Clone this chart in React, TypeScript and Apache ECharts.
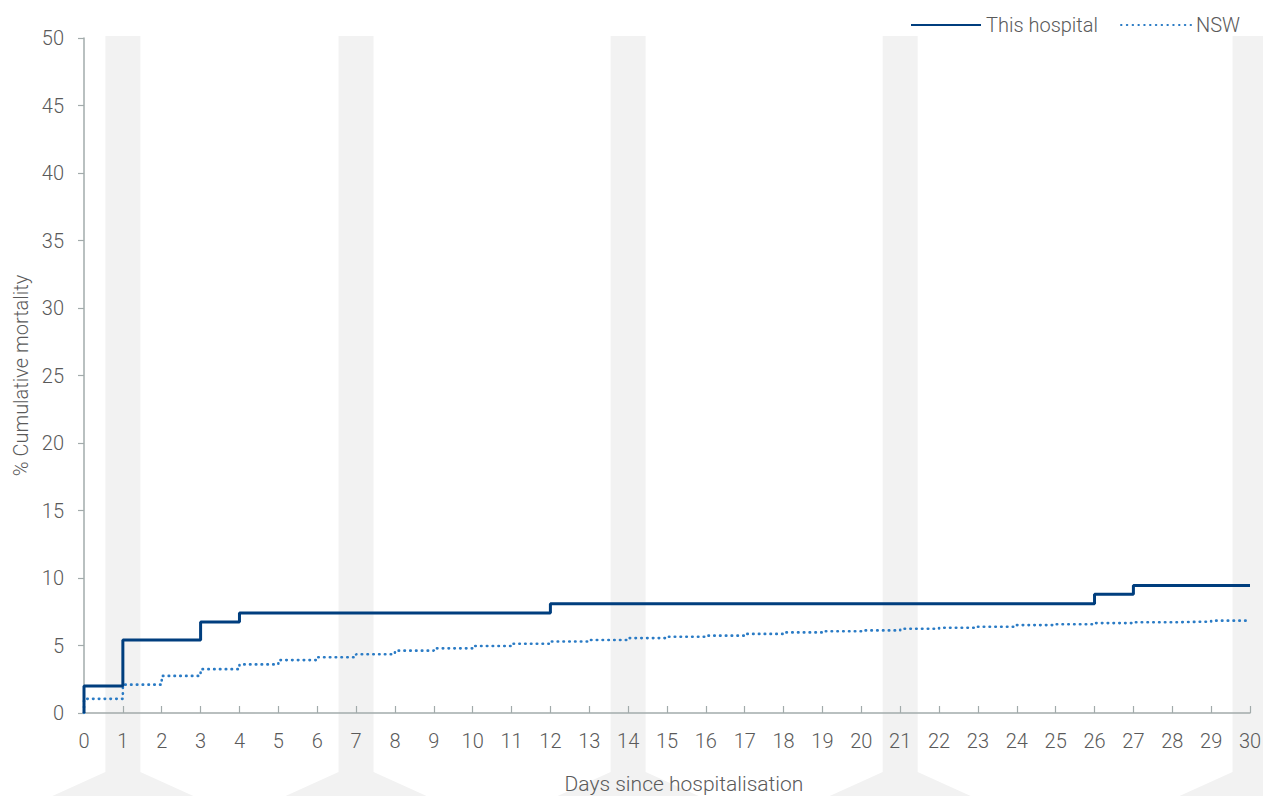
import React, { useEffect, useRef } from "react";
import * as echarts from "echarts";

const days: number[] = Array.from({ length: 31 }, (_, i) => i);
const hospitalSteps: [number, number][] = [
  [0, 0], [0, 2.0], [1, 5.4], [3, 6.75], [4, 7.4], [12, 8.1], [26, 8.8], [27, 9.45], [30, 9.45],
];
const nswValues: number[] = [
  1.05, 2.1, 2.75, 3.25, 3.6, 3.92, 4.13, 4.35, 4.62, 4.79, 4.96, 5.13, 5.3, 5.41, 5.55,
  5.65, 5.73, 5.86, 5.97, 6.06, 6.12, 6.24, 6.31, 6.39, 6.51, 6.57, 6.66, 6.72, 6.77, 6.84, 6.84,
];
const bandDays: number[] = [1, 7, 14, 21, 30];
const yTicks = { min: 0, max: 50, interval: 5 };
const FONT = "Roboto, 'Liberation Sans', Arial, sans-serif";

export default function App() {
  const ref = useRef<HTMLDivElement>(null);
  useEffect(() => {
    document.body.style.margin = "0";
    if (!ref.current) return;
    const chart = echarts.init(ref.current, undefined, { renderer: "svg" });
    const nswData: [number, number][] = [[0, 0]];
    days.forEach((d, i) => nswData.push([d, nswValues[i]]));
    const axisColor = "#a2abab";
    const labelColor = "#5a5a5a";
    chart.setOption({
      animation: false,
      textStyle: { fontFamily: FONT },
      legend: {
        top: 10,
        right: 18,
        itemWidth: 70,
        itemHeight: 14,
        itemGap: 22,
        itemStyle: { opacity: 0 },
        textStyle: { fontSize: 20, color: labelColor, fontFamily: FONT, fontWeight: 300 },
        data: ["This hospital", "NSW"],
      },
      grid: { left: 84, right: 13, top: 38, bottom: 83, containLabel: false, outerBoundsMode: "none" },
      xAxis: {
        type: "value",
        min: 0,
        max: 30,
        interval: 1,
        name: "Days since hospitalisation",
        nameLocation: "middle",
        nameGap: 60,
        nameTextStyle: { fontSize: 21, color: labelColor, fontWeight: 300, padding: [0, 0, 0, 34] },
        axisLine: { lineStyle: { color: axisColor, width: 1.5 } },
        axisTick: { inside: true, length: 7, lineStyle: { color: axisColor, width: 1.2 } },
        axisLabel: { fontSize: 20, color: labelColor, margin: 18, fontWeight: 300 },
        splitLine: { show: false },
      },
      yAxis: {
        type: "value",
        min: yTicks.min,
        max: yTicks.max,
        interval: yTicks.interval,
        name: "% Cumulative mortality",
        nameLocation: "middle",
        nameGap: 53,
        nameTextStyle: { fontSize: 20, color: labelColor, fontWeight: 300 },
        axisLine: { show: true, lineStyle: { color: axisColor, width: 1.5 } },
        axisTick: { show: true, length: 6, lineStyle: { color: axisColor, width: 1.2 } },
        axisLabel: { fontSize: 20, color: labelColor, margin: 20, fontWeight: 300 },
        splitLine: { show: false },
      },
      series: [
        {
          name: "This hospital",
          type: "line",
          step: "end",
          symbol: "none",
          data: hospitalSteps,
          lineStyle: { color: "#003e7e", width: 3 },
          itemStyle: { color: "#003e7e" },
          z: 4,
        },
        {
          name: "NSW",
          type: "line",
          step: "end",
          symbol: "none",
          data: nswData,
          lineStyle: { color: "#2a7bc5", width: 2.6, type: [0.5, 5.3], cap: "round" },
          itemStyle: { color: "#2a7bc5" },
          z: 3,
        },
      ],
    });
    const half = 0.45;
    const yTop = 36;
    const yBend = 772;
    const yBottom = 800;
    const graphics = bandDays.map((d) => {
      const x1 = chart.convertToPixel({ xAxisIndex: 0 }, d - half) as number;
      const x2 = chart.convertToPixel({ xAxisIndex: 0 }, d + half) as number;
      const spread = ((yBottom - yBend) * 53) / 24;
      return {
        type: "polygon",
        z: -10,
        silent: true,
        shape: {
          points: [
            [x1, yTop], [x2, yTop], [x2, yBend], [x2 + spread, yBottom],
            [x1 - spread, yBottom], [x1, yBend],
          ],
        },
        style: { fill: "#f2f2f2" },
      };
    });
    chart.setOption({ graphic: graphics });
    return () => chart.dispose();
  }, []);
  return <div ref={ref} style={{ width: 1263, height: 796 }} />;
}
